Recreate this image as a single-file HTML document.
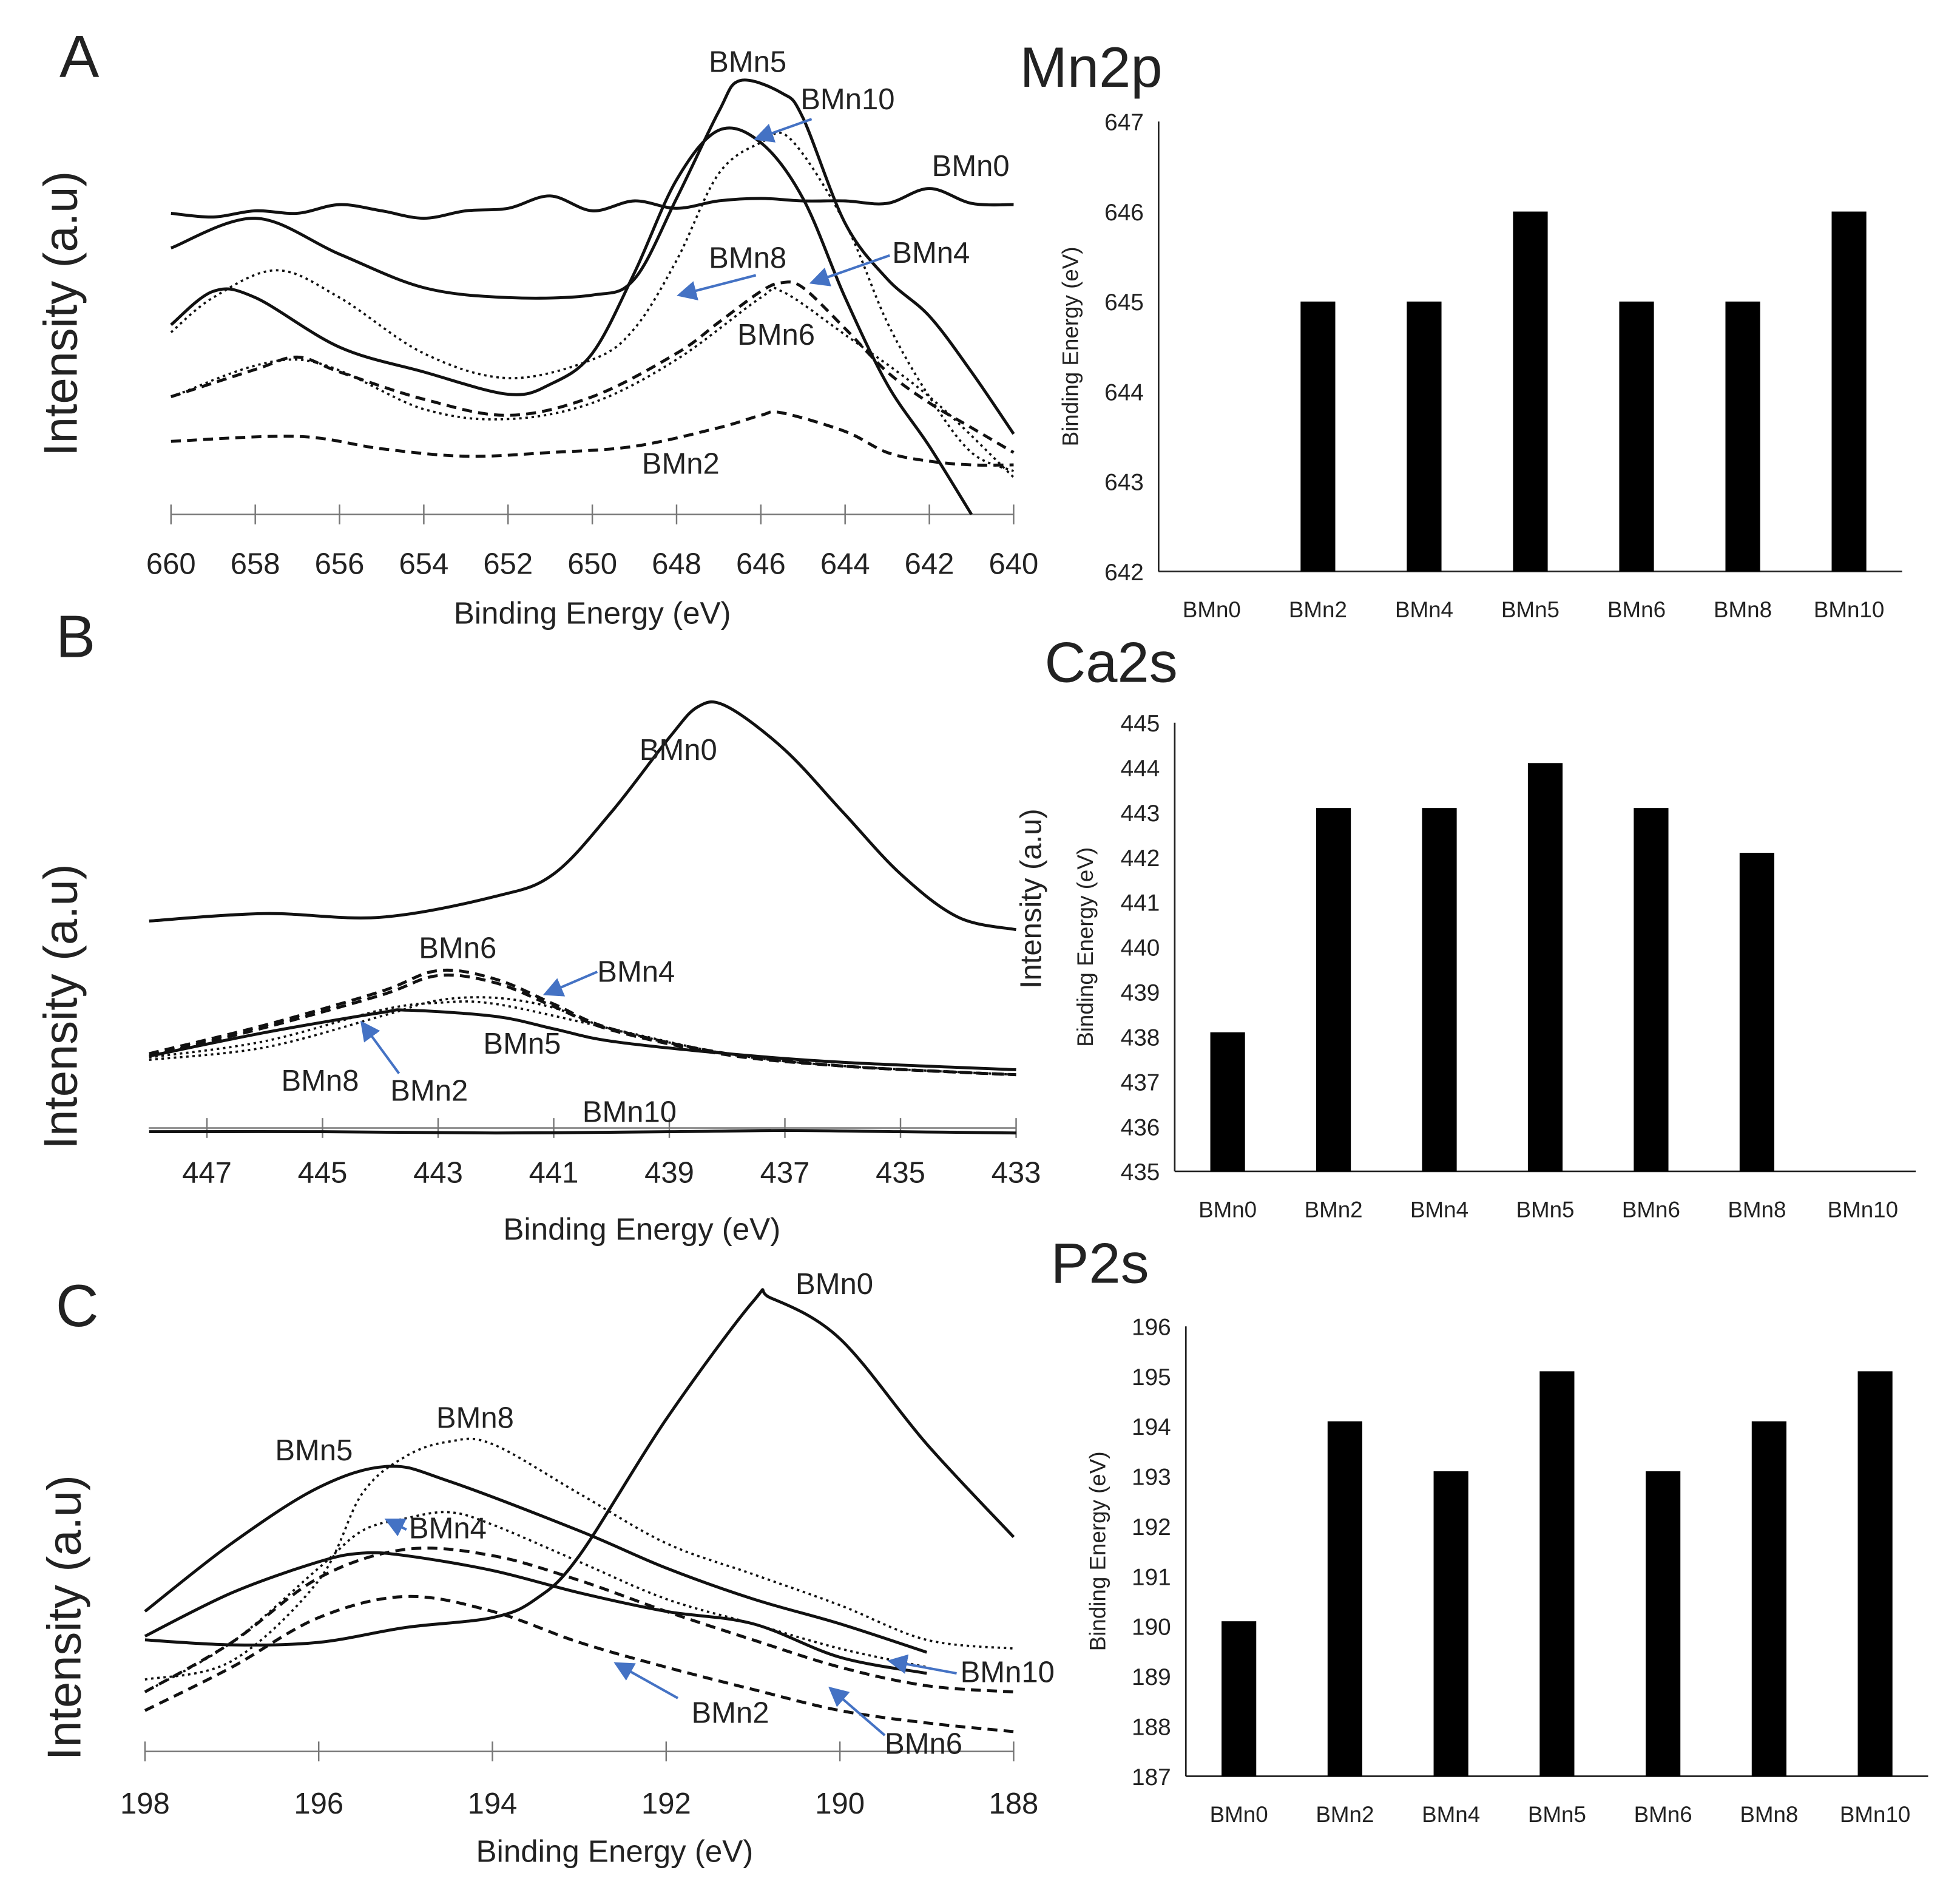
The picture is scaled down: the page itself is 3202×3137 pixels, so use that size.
<!DOCTYPE html>
<html><head><meta charset="utf-8"><style>
html,body{margin:0;padding:0;background:#fff}
svg{display:block;font-family:"Liberation Sans",sans-serif}
</style></head><body>
<svg id="fig" width="3202" height="3137" viewBox="0 0 1568 1536" xmlns="http://www.w3.org/2000/svg">
<defs><marker id="ah" markerWidth="8" markerHeight="8" refX="7" refY="4" orient="auto"><path d="M0,0 L8,4 L0,8 z" fill="#4472c4"/></marker></defs>
</svg>
<script>
// ---------- Panel A data (Mn2p) ----------
const aTicks=[660,658,656,654,652,650,648,646,644,642,640];
const aBMn0X=[660,659,658,657,656,655,654,653,652,651,650,649,648,647,646,645,644,643,642,641,640];
const aBMn0Y=[248,245,250,248,255,250,244,250,252,262,250,258,252,258,260,258,258,256,268,256,255];
const aBMn5X=[660,658,656,654,652,650,649,648,647,646.5,645.5,645,644,643,642,641,640];
const aBMn5Y=[220,244,215,188,180,182,195,260,330,355,345,325,240,195,165,120,70];
const aBMn10X=[660,659,658,656,654,652,651,650,649,648,647,646,645,644,643,642,641];
const aBMn10Y=[158,185,180,140,120,102,110,135,200,275,315,305,260,180,110,60,5];
const aBMn8X=[660,659,657.5,656,654,652,650,649,648,647,646,645.3,644,643,642,641,640];
const aBMn8Y=[152,180,202,180,135,115,130,155,210,280,305,308,240,160,100,55,40];
const aBMn4X=[660,658,657,656,654,652,650,648,647,646,645.5,645,644,643,642,641,640];
const aBMn4Y=[100,122,132,120,98,85,100,135,160,185,192,188,155,120,95,75,55];
const aBMn6X=[660,657,654,652,650,648,646,645.5,644,642,640];
const aBMn6Y=[100,130,90,82,95,130,180,185,150,100,35];
const aBMn2X=[660,657,655,653,651,649,647,646,645.5,644,643,642,641,640];
const aBMn2Y=[64,68,58,52,55,60,75,85,87,72,55,48,45,45];
// ---------- Panel B data (Ca2s) ----------
const bTicks=[447,445,443,441,439,437,435,433];
const bBMn0X=[448,446,444,442,441,440,439,438.5,438,437,436,435,434,433];
const bBMn0Y=[172,178,175,192,210,260,320,345,345,310,260,210,175,165];
const bBMn6X=[448,446,444,443,442,441,440,438,436,434,433];
const bBMn6Y=[65,88,115,132,125,105,85,65,55,50,48];
const bBMn4Y=[63,86,112,128,122,103,84,64,55,50,48];
const bBMn2X=[448,446,444,443,442,441,440,438,436,433];
const bBMn2Y=[60,70,95,108,110,102,85,65,55,48];
const bBMn8X=[448,446,444,443,442,440,438,436,433];
const bBMn8Y=[62,75,100,106,105,85,65,55,48];
const bBMn5X=[448,446,444,443.5,442,441,440,438,436,433];
const bBMn5Y=[63,82,98,100,95,85,75,65,58,52];
const bBMn10X=[448,445,442,439,437,435,433];
const bBMn10Y=[2,2,1,2,3,2,1];
// ---------- Panel C data (P2s) ----------
const cTicks=[198,196,194,192,190,188];
const cBMn0X=[198,197,196,195,194,193.5,193,192,191,190.8,190,189,188];
const cBMn0Y=[95,91,93,105,113,128,163,273,368,371,338,253,178];
const cBMn5X=[198,197,196,195.2,194.5,193,192,191,190,189];
const cBMn5Y=[118,173,218,235,223,183,153,128,108,85];
const cBMn8X=[198,197,196,195.5,195,194.5,194,193,192,191,190,189,188];
const cBMn8Y=[63,78,143,213,243,255,253,213,173,148,123,95,88];
const cBMn10X=[198,197,196,195.5,195,194,193,192,191,190,189];
const cBMn10Y=[98,133,158,165,163,151,133,118,108,81,68];
const cBMn4X=[198,197,196,195.5,195,194.5,194,193,192,191,190,189];
const cBMn4Y=[53,93,153,183,193,198,188,158,128,108,88,73];
const cBMn6X=[198,197,196,195,194,193,192,191,190,189,188];
const cBMn6Y=[53,93,145,168,163,143,118,95,73,58,53];
const cBMn2X=[198,197,196,195,194,193,192,191,190,189,188];
const cBMn2Y=[38,73,113,130,118,93,73,55,38,28,21];
// ---------- Bar data ----------
const samples=["BMn0","BMn2","BMn4","BMn5","BMn6","BMn8","BMn10"];
const mnValues=[642,645,645,646,645,645,646];
const mnTicks=[642,643,644,645,646,647];
const caValues=[438.1,443.1,443.1,444.1,443.1,442.1,435];
const caTicks=[435,436,437,438,439,440,441,442,443,444,445];
const pValues=[190.1,194.1,193.1,195.1,193.1,194.1,195.1];
const pTicks=[187,188,189,190,191,192,193,194,195,196];

const NS="http://www.w3.org/2000/svg";
const svg=document.getElementById('fig');
function mk(tag,attrs,parent){const e=document.createElementNS(NS,tag);for(const k in attrs)e.setAttribute(k,attrs[k]);(parent||svg).appendChild(e);return e;}
function txt(x,y,s,size,anchor,name,extra){const t=mk('text',Object.assign({x:x,y:y,'font-size':size,'text-anchor':anchor||'start',fill:'#222'},extra||{}));t.textContent=s;


return t;}
function smooth(pts){let d='M'+pts[0][0]+','+pts[0][1];for(let i=0;i<pts.length-1;i++){const p0=pts[i-1]||pts[i],p1=pts[i],p2=pts[i+1],p3=pts[i+2]||p2;
const c1=[p1[0]+(p2[0]-p0[0])/6,p1[1]+(p2[1]-p0[1])/6],c2=[p2[0]-(p3[0]-p1[0])/6,p2[1]-(p3[1]-p1[1])/6];d+=' C'+c1+' '+c2+' '+p2;}return d;}
function linePanel(cfg){
  const sx=v=>cfg.x0+(cfg.xa-v)*(cfg.x1-cfg.x0)/(cfg.xa-cfg.xb);
  const sy=v=>cfg.axisY-v;
  const ax=mk('line',{x1:cfg.lineStart,y1:cfg.axisY-5,x2:cfg.x1,y2:cfg.axisY-5,stroke:'#777','stroke-width':1.2});
  
  
  cfg.ticks.forEach(t=>{const tk=mk('line',{x1:sx(t),y1:cfg.axisY-13,x2:sx(t),y2:cfg.axisY+3,stroke:'#777','stroke-width':1.2});
    
    
    txt(sx(t),cfg.axisY+cfg.lab,String(t),24,'middle',cfg.id+'-x-tick-label');});
  cfg.series.forEach(s=>{const pts=s.x.map((v,i)=>[sx(v),sy(s.y[i])]);
    const p=mk('path',{d:smooth(pts),fill:'none',stroke:'#111','stroke-width':s.dash==='dot'?1.8:2.4,'stroke-dasharray':s.dash==='dot'?'2,3':(s.dash==='dash'?'8,5':'none')});
    
    });
}
function barPanel(cfg){
  const sy=v=>cfg.yBot-(v-cfg.ticks[0])*(cfg.yBot-cfg.yTop)/(cfg.ticks[cfg.ticks.length-1]-cfg.ticks[0]);
  const ya=mk('line',{x1:cfg.xl,y1:cfg.yTop,x2:cfg.xl,y2:cfg.yBot,stroke:'#222','stroke-width':1.3});
  
  
  const xa=mk('line',{x1:cfg.xl,y1:cfg.yBot,x2:cfg.xr,y2:cfg.yBot,stroke:'#222','stroke-width':1.3});
  
  
  cfg.ticks.forEach(t=>txt(cfg.xl-12,sy(t)+7,String(t),19,'end',cfg.id+'-y-tick-label'));
  const step=(cfg.xr-cfg.xl)/cfg.values.length;
  cfg.values.forEach((v,i)=>{const cx=cfg.xl+step*(i+0.5);
    const r=mk('rect',{x:cx-14,y:sy(v),width:28,height:cfg.yBot-sy(v),fill:'#000'});
    
    
    txt(cx,cfg.yBot+37,samples[i],18,'middle',cfg.id+'-x-tick-label');});
  txt(0,0,'Binding Energy (eV)',18,'middle',cfg.id+'-y-axis-title',{transform:'translate('+cfg.ytx+','+(cfg.yTop+cfg.yBot)/2+') rotate(-90)'});
}
function arrow(x1,y1,x2,y2,name){const l=mk('line',{x1:x1,y1:y1,x2:x2,y2:y2,stroke:'#4472c4','stroke-width':2,'marker-end':'url(#ah)'});
  
  }

// Panel A
linePanel({id:'mn2p',x0:138,x1:818,xa:660,xb:640,axisY:420,lab:43,lineStart:138,ticks:aTicks,series:[
 {n:'BMn0',x:aBMn0X,y:aBMn0Y},{n:'BMn5',x:aBMn5X,y:aBMn5Y},{n:'BMn10',x:aBMn10X,y:aBMn10Y},
 {n:'BMn8',x:aBMn8X,y:aBMn8Y,dash:'dot'},{n:'BMn4',x:aBMn4X,y:aBMn4Y,dash:'dash'},
 {n:'BMn6',x:aBMn6X,y:aBMn6Y,dash:'dot'},{n:'BMn2',x:aBMn2X,y:aBMn2Y,dash:'dash'}]});
// Panel B
linePanel({id:'ca2s',x0:167,x1:820,xa:447,xb:433,axisY:915,lab:39,lineStart:120,ticks:bTicks,series:[
 {n:'BMn0',x:bBMn0X,y:bBMn0Y},{n:'BMn6',x:bBMn6X,y:bBMn6Y,dash:'dash'},{n:'BMn4',x:bBMn6X,y:bBMn4Y,dash:'dash'},
 {n:'BMn2',x:bBMn2X,y:bBMn2Y,dash:'dot'},{n:'BMn8',x:bBMn8X,y:bBMn8Y,dash:'dot'},
 {n:'BMn5',x:bBMn5X,y:bBMn5Y},{n:'BMn10',x:bBMn10X,y:bBMn10Y}]});
// Panel C
linePanel({id:'p2s',x0:117,x1:818,xa:198,xb:188,axisY:1418,lab:45,lineStart:117,ticks:cTicks,series:[
 {n:'BMn0',x:cBMn0X,y:cBMn0Y},{n:'BMn5',x:cBMn5X,y:cBMn5Y},{n:'BMn8',x:cBMn8X,y:cBMn8Y,dash:'dot'},
 {n:'BMn10',x:cBMn10X,y:cBMn10Y},{n:'BMn4',x:cBMn4X,y:cBMn4Y,dash:'dot'},
 {n:'BMn6',x:cBMn6X,y:cBMn6Y,dash:'dash'},{n:'BMn2',x:cBMn2X,y:cBMn2Y,dash:'dash'}]});

// Bars
barPanel({id:'mn2p-bar',xl:935,xr:1535,yTop:98,yBot:461,ticks:mnTicks,values:mnValues,ytx:870});
barPanel({id:'ca2s-bar',xl:948,xr:1546,yTop:583,yBot:945,ticks:caTicks,values:caValues,ytx:882});
barPanel({id:'p2s-bar',xl:957,xr:1556,yTop:1070,yBot:1433,ticks:pTicks,values:pValues,ytx:892});

// Panel letters, titles, axis titles
txt(48,62,'A',48,'start','panel-label-a');
txt(45,530,'B',48,'start','panel-label-b');
txt(45,1070,'C',48,'start','panel-label-c');
txt(823,70,'Mn2p',46,'start','mn2p-title');
txt(843,550,'Ca2s',46,'start','ca2s-title');
txt(848,1035,'P2s',46,'start','p2s-title');
txt(478,503,'Binding Energy (eV)',25,'middle','mn2p-x-axis-title');
txt(518,1000,'Binding Energy (eV)',25,'middle','ca2s-x-axis-title');
txt(496,1502,'Binding Energy (eV)',25,'middle','p2s-x-axis-title');
txt(0,0,'Intensity (a.u)',38,'middle','mn2p-y-axis-title',{transform:'translate(62,253) rotate(-90)'});
txt(0,0,'Intensity (a.u)',38,'middle','ca2s-y-axis-title',{transform:'translate(62,812) rotate(-90)'});
txt(0,0,'Intensity (a.u)',38,'middle','p2s-y-axis-title',{transform:'translate(65,1305) rotate(-90)'});
txt(0,0,'Intensity (a.u)',24,'middle','ca2s-bar-extra-y-title',{transform:'translate(840,725) rotate(-90)'});

// Series labels
[[572,58,'BMn5'],[646,88,'BMn10'],[752,142,'BMn0'],[572,216,'BMn8'],[720,212,'BMn4'],[595,278,'BMn6'],[518,382,'BMn2'],
 [516,613,'BMn0'],[338,773,'BMn6'],[482,792,'BMn4'],[390,850,'BMn5'],[227,880,'BMn8'],[315,888,'BMn2'],[470,905,'BMn10'],
 [642,1044,'BMn0'],[352,1152,'BMn8'],[222,1178,'BMn5'],[330,1241,'BMn4'],[775,1357,'BMn10'],[558,1390,'BMn2'],[714,1415,'BMn6']]
 .forEach(l=>txt(l[0],l[1],l[2],24,'start','series-label-'+l[2].toLowerCase()));
arrow(655,96,610,112,'arrow-bmn10-a');arrow(610,222,548,238,'arrow-bmn8-a');arrow(718,206,655,228,'arrow-bmn4-a');
arrow(482,784,440,802,'arrow-bmn4-b');arrow(322,866,292,825,'arrow-bmn2-b');
arrow(328,1234,312,1226,'arrow-bmn4-c');arrow(772,1350,718,1340,'arrow-bmn10-c');arrow(547,1370,497,1342,'arrow-bmn2-c');arrow(714,1400,670,1362,'arrow-bmn6-c');
</script>
</body></html>
